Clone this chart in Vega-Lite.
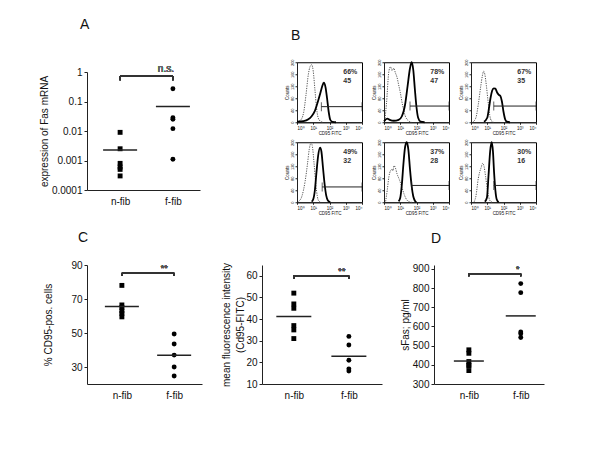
{
"$schema":"https://vega.github.io/schema/vega-lite/v6.json",
"background":"white",
"padding":{"left":39,"top":18,"right":5,"bottom":5},
"config":{"font":"Liberation Sans","view":{"stroke":null},
"axis":{"grid":false,"labelOverlap":false,"tickCount":20,"domainColor":"#222","tickColor":"#222","labelColor":"#111","titleColor":"#111","labelFontSize":10,"titleFontSize":10,"titleFontWeight":"normal","tickSize":3,"labelPadding":2,"titlePadding":2,"labelFont":"Liberation Sans","titleFont":"Liberation Sans"},
"title":{"fontSize":14,"fontWeight":"normal","anchor":"start","frame":"group","font":"Liberation Sans","color":"#111"}},
"datasets":{
"A":[{"group":"n-fib","value":0.009},{"group":"n-fib","value":0.0025},{"group":"n-fib","value":0.0008},{"group":"n-fib","value":0.0006},{"group":"n-fib","value":0.0005},{"group":"n-fib","value":0.0003},{"group":"f-fib","value":0.27},{"group":"f-fib","value":0.028},{"group":"f-fib","value":0.025},{"group":"f-fib","value":0.012},{"group":"f-fib","value":0.0011}],
"C1":[{"group":"n-fib","value":78},{"group":"n-fib","value":66.5},{"group":"n-fib","value":65},{"group":"n-fib","value":63},{"group":"n-fib","value":61.5},{"group":"n-fib","value":59.5},{"group":"f-fib","value":49.4},{"group":"f-fib","value":43.5},{"group":"f-fib","value":37},{"group":"f-fib","value":30},{"group":"f-fib","value":24.7}],
"C2":[{"group":"n-fib","value":52},{"group":"n-fib","value":47},{"group":"n-fib","value":45},{"group":"n-fib","value":37},{"group":"n-fib","value":35},{"group":"n-fib","value":31},{"group":"f-fib","value":32},{"group":"f-fib","value":28},{"group":"f-fib","value":21},{"group":"f-fib","value":17},{"group":"f-fib","value":16}],
"D":[{"group":"n-fib","value":478},{"group":"n-fib","value":460},{"group":"n-fib","value":417},{"group":"n-fib","value":398},{"group":"n-fib","value":395},{"group":"n-fib","value":370},{"group":"f-fib","value":823},{"group":"f-fib","value":776},{"group":"f-fib","value":571},{"group":"f-fib","value":562},{"group":"f-fib","value":542}],
"B":[
{"r":1,"c":1,"s":"c","fl":1,"n":2},{"r":1,"c":1,"s":"c","fl":1.58,"n":6},{"r":1,"c":1,"s":"c","fl":2.51,"n":30},{"r":1,"c":1,"s":"c","fl":3.55,"n":90},{"r":1,"c":1,"s":"c","fl":5.01,"n":160},{"r":1,"c":1,"s":"c","fl":6.31,"n":185},{"r":1,"c":1,"s":"c","fl":7.94,"n":192},{"r":1,"c":1,"s":"c","fl":10,"n":170},{"r":1,"c":1,"s":"c","fl":12.6,"n":110},{"r":1,"c":1,"s":"c","fl":15.8,"n":50},{"r":1,"c":1,"s":"c","fl":20,"n":15},{"r":1,"c":1,"s":"c","fl":28.2,"n":3},{"r":1,"c":1,"s":"c","fl":39.8,"n":0},
{"r":1,"c":1,"s":"f","fl":1,"n":2},{"r":1,"c":1,"s":"f","fl":2.51,"n":4},{"r":1,"c":1,"s":"f","fl":5.01,"n":10},{"r":1,"c":1,"s":"f","fl":7.94,"n":20},{"r":1,"c":1,"s":"f","fl":12.6,"n":38},{"r":1,"c":1,"s":"f","fl":20,"n":72},{"r":1,"c":1,"s":"f","fl":28.2,"n":100},{"r":1,"c":1,"s":"f","fl":35.5,"n":120},{"r":1,"c":1,"s":"f","fl":44.7,"n":132},{"r":1,"c":1,"s":"f","fl":56.2,"n":118},{"r":1,"c":1,"s":"f","fl":70.8,"n":80},{"r":1,"c":1,"s":"f","fl":89.1,"n":35},{"r":1,"c":1,"s":"f","fl":112,"n":8},{"r":1,"c":1,"s":"f","fl":158,"n":1},{"r":1,"c":1,"s":"f","fl":251,"n":0},
{"r":1,"c":2,"s":"c","fl":1.12,"n":5},{"r":1,"c":2,"s":"c","fl":1.41,"n":60},{"r":1,"c":2,"s":"c","fl":2,"n":170},{"r":1,"c":2,"s":"c","fl":2.51,"n":185},{"r":1,"c":2,"s":"c","fl":3.16,"n":172},{"r":1,"c":2,"s":"c","fl":3.98,"n":180},{"r":1,"c":2,"s":"c","fl":5.01,"n":165},{"r":1,"c":2,"s":"c","fl":6.31,"n":150},{"r":1,"c":2,"s":"c","fl":7.94,"n":125},{"r":1,"c":2,"s":"c","fl":10,"n":100},{"r":1,"c":2,"s":"c","fl":14.1,"n":55},{"r":1,"c":2,"s":"c","fl":20,"n":22},{"r":1,"c":2,"s":"c","fl":31.6,"n":5},{"r":1,"c":2,"s":"c","fl":50.1,"n":0},
{"r":1,"c":2,"s":"f","fl":1,"n":3},{"r":1,"c":2,"s":"f","fl":1.58,"n":12},{"r":1,"c":2,"s":"f","fl":2.24,"n":8},{"r":1,"c":2,"s":"f","fl":3.98,"n":5},{"r":1,"c":2,"s":"f","fl":7.94,"n":8},{"r":1,"c":2,"s":"f","fl":12.6,"n":20},{"r":1,"c":2,"s":"f","fl":20,"n":60},{"r":1,"c":2,"s":"f","fl":28.2,"n":120},{"r":1,"c":2,"s":"f","fl":39.8,"n":180},{"r":1,"c":2,"s":"f","fl":50.1,"n":200},{"r":1,"c":2,"s":"f","fl":63.1,"n":175},{"r":1,"c":2,"s":"f","fl":79.4,"n":110},{"r":1,"c":2,"s":"f","fl":100,"n":50},{"r":1,"c":2,"s":"f","fl":126,"n":15},{"r":1,"c":2,"s":"f","fl":178,"n":2},{"r":1,"c":2,"s":"f","fl":316,"n":0},
{"r":1,"c":3,"s":"c","fl":1.26,"n":0},{"r":1,"c":3,"s":"c","fl":2,"n":15},{"r":1,"c":3,"s":"c","fl":2.82,"n":60},{"r":1,"c":3,"s":"c","fl":3.98,"n":120},{"r":1,"c":3,"s":"c","fl":5.01,"n":155},{"r":1,"c":3,"s":"c","fl":6.03,"n":170},{"r":1,"c":3,"s":"c","fl":7.08,"n":160},{"r":1,"c":3,"s":"c","fl":8.91,"n":120},{"r":1,"c":3,"s":"c","fl":11.2,"n":70},{"r":1,"c":3,"s":"c","fl":14.1,"n":25},{"r":1,"c":3,"s":"c","fl":17.8,"n":5},{"r":1,"c":3,"s":"c","fl":25.1,"n":0},
{"r":1,"c":3,"s":"f","fl":6.31,"n":2},{"r":1,"c":3,"s":"f","fl":10,"n":15},{"r":1,"c":3,"s":"f","fl":12.6,"n":45},{"r":1,"c":3,"s":"f","fl":15.8,"n":80},{"r":1,"c":3,"s":"f","fl":20,"n":105},{"r":1,"c":3,"s":"f","fl":25.1,"n":113},{"r":1,"c":3,"s":"f","fl":31.6,"n":112},{"r":1,"c":3,"s":"f","fl":39.8,"n":100},{"r":1,"c":3,"s":"f","fl":50.1,"n":92},{"r":1,"c":3,"s":"f","fl":63.1,"n":88},{"r":1,"c":3,"s":"f","fl":79.4,"n":70},{"r":1,"c":3,"s":"f","fl":100,"n":35},{"r":1,"c":3,"s":"f","fl":126,"n":10},{"r":1,"c":3,"s":"f","fl":158,"n":2},{"r":1,"c":3,"s":"f","fl":251,"n":0},
{"r":2,"c":1,"s":"c","fl":1.26,"n":3},{"r":2,"c":1,"s":"c","fl":2,"n":20},{"r":2,"c":1,"s":"c","fl":3.16,"n":70},{"r":2,"c":1,"s":"c","fl":4.47,"n":130},{"r":2,"c":1,"s":"c","fl":5.62,"n":175},{"r":2,"c":1,"s":"c","fl":7.41,"n":198},{"r":2,"c":1,"s":"c","fl":8.91,"n":185},{"r":2,"c":1,"s":"c","fl":11.2,"n":130},{"r":2,"c":1,"s":"c","fl":14.1,"n":65},{"r":2,"c":1,"s":"c","fl":17.8,"n":20},{"r":2,"c":1,"s":"c","fl":23.4,"n":2},{"r":2,"c":1,"s":"c","fl":31.6,"n":0},
{"r":2,"c":1,"s":"f","fl":7.94,"n":2},{"r":2,"c":1,"s":"f","fl":10,"n":10},{"r":2,"c":1,"s":"f","fl":12.6,"n":40},{"r":2,"c":1,"s":"f","fl":15.8,"n":100},{"r":2,"c":1,"s":"f","fl":20,"n":155},{"r":2,"c":1,"s":"f","fl":26.3,"n":182},{"r":2,"c":1,"s":"f","fl":31.6,"n":170},{"r":2,"c":1,"s":"f","fl":39.8,"n":115},{"r":2,"c":1,"s":"f","fl":50.1,"n":60},{"r":2,"c":1,"s":"f","fl":63.1,"n":22},{"r":2,"c":1,"s":"f","fl":79.4,"n":6},{"r":2,"c":1,"s":"f","fl":112,"n":0},
{"r":2,"c":2,"s":"c","fl":1.26,"n":3},{"r":2,"c":2,"s":"c","fl":1.58,"n":40},{"r":2,"c":2,"s":"c","fl":2,"n":85},{"r":2,"c":2,"s":"c","fl":2.51,"n":105},{"r":2,"c":2,"s":"c","fl":3.16,"n":110},{"r":2,"c":2,"s":"c","fl":3.55,"n":105},{"r":2,"c":2,"s":"c","fl":4.17,"n":122},{"r":2,"c":2,"s":"c","fl":5.01,"n":115},{"r":2,"c":2,"s":"c","fl":6.31,"n":95},{"r":2,"c":2,"s":"c","fl":8.91,"n":75},{"r":2,"c":2,"s":"c","fl":12.6,"n":50},{"r":2,"c":2,"s":"c","fl":17.8,"n":25},{"r":2,"c":2,"s":"c","fl":25.1,"n":8},{"r":2,"c":2,"s":"c","fl":35.5,"n":2},{"r":2,"c":2,"s":"c","fl":50.1,"n":0},
{"r":2,"c":2,"s":"f","fl":7.94,"n":3},{"r":2,"c":2,"s":"f","fl":10,"n":15},{"r":2,"c":2,"s":"f","fl":12.6,"n":60},{"r":2,"c":2,"s":"f","fl":15.8,"n":130},{"r":2,"c":2,"s":"f","fl":20,"n":185},{"r":2,"c":2,"s":"f","fl":25.1,"n":200},{"r":2,"c":2,"s":"f","fl":31.6,"n":175},{"r":2,"c":2,"s":"f","fl":39.8,"n":110},{"r":2,"c":2,"s":"f","fl":50.1,"n":55},{"r":2,"c":2,"s":"f","fl":63.1,"n":20},{"r":2,"c":2,"s":"f","fl":79.4,"n":5},{"r":2,"c":2,"s":"f","fl":100,"n":0},
{"r":2,"c":3,"s":"c","fl":1.58,"n":2},{"r":2,"c":3,"s":"c","fl":2,"n":20},{"r":2,"c":3,"s":"c","fl":2.82,"n":80},{"r":2,"c":3,"s":"c","fl":3.39,"n":100},{"r":2,"c":3,"s":"c","fl":4.17,"n":115},{"r":2,"c":3,"s":"c","fl":5.25,"n":130},{"r":2,"c":3,"s":"c","fl":6.31,"n":120},{"r":2,"c":3,"s":"c","fl":7.94,"n":85},{"r":2,"c":3,"s":"c","fl":10,"n":45},{"r":2,"c":3,"s":"c","fl":12.6,"n":15},{"r":2,"c":3,"s":"c","fl":15.8,"n":3},{"r":2,"c":3,"s":"c","fl":20,"n":0},
{"r":2,"c":3,"s":"f","fl":7.08,"n":2},{"r":2,"c":3,"s":"f","fl":9.55,"n":15},{"r":2,"c":3,"s":"f","fl":12,"n":90},{"r":2,"c":3,"s":"f","fl":15.1,"n":170},{"r":2,"c":3,"s":"f","fl":18.6,"n":200},{"r":2,"c":3,"s":"f","fl":22.4,"n":170},{"r":2,"c":3,"s":"f","fl":26.3,"n":100},{"r":2,"c":3,"s":"f","fl":31.6,"n":40},{"r":2,"c":3,"s":"f","fl":38,"n":10},{"r":2,"c":3,"s":"f","fl":50.1,"n":0},
{"r":1,"c":1,"s":"g","fl":31.6,"n":52,"pct":"66%","num":"45"},
{"r":1,"c":2,"s":"g","fl":39.8,"n":54,"pct":"78%","num":"47"},
{"r":1,"c":3,"s":"g","fl":25.1,"n":54,"pct":"67%","num":"35"},
{"r":2,"c":1,"s":"g","fl":35.5,"n":51,"pct":"49%","num":"32"},
{"r":2,"c":2,"s":"g","fl":50.1,"n":56,"pct":"37%","num":"28"},
{"r":2,"c":3,"s":"g","fl":25.1,"n":56,"pct":"30%","num":"16"}
]},
"spacing":15,
"vconcat":[
{"spacing":83,"center":true,"hconcat":[
{"title":{"text":"A","dx":-7,"offset":32},
"width":113,"height":118,"data":{"name":"A"},
"encoding":{"x":{"field":"group","type":"nominal","sort":["n-fib","f-fib"],"scale":{"type":"point","padding":0.57,"align":0.55},"axis":{"title":null,"ticks":false,"labelAngle":0,"labelPadding":6}}},
"layer":[
{"mark":{"type":"point","filled":true,"color":"black","opacity":1,"size":24},"encoding":{"y":{"field":"value","type":"quantitative","scale":{"type":"log","domain":[0.0001,1]},"axis":{"values":[0.0001,0.001,0.01,0.1,1],"tickCount":20,"format":"~g","labelOverlap":false,"title":"expression of Fas mRNA"}},"shape":{"field":"group","type":"nominal","scale":{"domain":["n-fib","f-fib"],"range":["square","circle"]},"legend":null}}},
{"mark":{"type":"tick","color":"#222","size":34,"thickness":1.5},"encoding":{"y":{"aggregate":"mean","field":"value","type":"quantitative","title":"expression of Fas mRNA"}}},
{"mark":{"type":"rule","color":"#333","strokeWidth":1.2},"encoding":{"x":{"datum":"n-fib"},"x2":{"datum":"f-fib"},"y":{"datum":0.73}}},
{"mark":{"type":"rule","color":"#333","strokeWidth":1.2},"encoding":{"x":{"datum":"n-fib"},"y":{"datum":0.73},"y2":{"datum":0.53}}},
{"mark":{"type":"rule","color":"#333","strokeWidth":1.2},"encoding":{"x":{"datum":"f-fib"},"y":{"datum":0.73},"y2":{"datum":0.53}}},
{"mark":{"type":"text","text":"n.s.","fontSize":10,"dx":-7,"dy":-2,"baseline":"bottom","color":"#666"},"encoding":{"x":{"datum":"f-fib"},"y":{"datum":0.73}}}
]},
{"title":{"text":"B","dx":-6,"offset":15},
"data":{"name":"B"},
"facet":{"row":{"field":"r","type":"ordinal","header":{"labels":false,"title":null}},"column":{"field":"c","type":"ordinal","header":{"labels":false,"title":null}}},
"bounds":"flush","spacing":{"row":20,"column":22},
"resolve":{"axis":{"x":"independent","y":"independent"}},
"spec":{"width":65,"height":60,"view":{"stroke":"black","strokeWidth":1},
"encoding":{
"x":{"field":"fl","type":"quantitative","scale":{"type":"log","domain":[1,10000]},"axis":{"values":[1,10,100,1000,10000],"tickCount":20,"labelExpr":"datum.value == 1 ? '10⁰' : datum.value == 10 ? '10¹' : datum.value == 100 ? '10²' : datum.value == 1000 ? '10³' : '10⁴'","labelFontSize":4.5,"tickSize":2,"labelPadding":1,"title":"CD95 FITC","titleFontSize":4.5,"titlePadding":1}},
"y":{"field":"n","type":"quantitative","scale":{"domain":[0,200]},"axis":{"values":[0,40,80,120,160,200],"tickCount":20,"labelAngle":270,"labelAlign":"center","labelBaseline":"bottom","labelFontSize":4,"tickSize":2,"labelPadding":1,"title":"Counts","titleFontSize":4.5,"titlePadding":1}}},
"layer":[
{"transform":[{"filter":"datum.s == 'c'"}],"mark":{"type":"line","interpolate":"monotone","color":"#555","strokeWidth":1,"strokeDash":[1.2,1.2]}},
{"transform":[{"filter":"datum.s == 'f'"}],"mark":{"type":"line","interpolate":"monotone","color":"black","strokeWidth":1.8}},
{"transform":[{"filter":"datum.s == 'g'"}],"mark":{"type":"rule","color":"#222","strokeWidth":1},"encoding":{"x2":{"datum":10000}}},
{"transform":[{"filter":"datum.s == 'g'"}],"mark":{"type":"tick","orient":"vertical","size":9,"thickness":1,"color":"#222"}},
{"transform":[{"filter":"datum.s == 'g'"}],"mark":{"type":"tick","orient":"vertical","size":9,"thickness":1,"color":"#222"},"encoding":{"x":{"datum":10000}}},
{"transform":[{"filter":"datum.s == 'g'"}],"mark":{"type":"text","align":"left","fontSize":7,"fontWeight":"bold","color":"#333"},"encoding":{"x":{"datum":700},"y":{"datum":166},"text":{"field":"pct"}}},
{"transform":[{"filter":"datum.s == 'g'"}],"mark":{"type":"text","align":"left","fontSize":7,"fontWeight":"bold","color":"#333"},"encoding":{"x":{"datum":700},"y":{"datum":136},"text":{"field":"num"}}}
]}}
]},
{"spacing":18,"hconcat":[
{"title":{"text":"C","dx":-9,"offset":15},"spacing":60,"bounds":"flush","hconcat":[
{"width":115,"height":119,"data":{"name":"C1"},
"encoding":{"x":{"field":"group","type":"nominal","sort":["n-fib","f-fib"],"scale":{"type":"point","padding":0.6,"align":0.556},"axis":{"title":null,"ticks":false,"labelAngle":0,"labelPadding":6}}},
"layer":[
{"mark":{"type":"point","filled":true,"color":"black","opacity":1,"size":24},"encoding":{"y":{"field":"value","type":"quantitative","scale":{"domain":[20,90],"nice":false,"zero":false},"axis":{"values":[30,50,70,90],"tickCount":20,"labelOverlap":false,"title":"% CD95-pos. cells","titlePadding":17}},"shape":{"field":"group","type":"nominal","scale":{"domain":["n-fib","f-fib"],"range":["square","circle"]},"legend":null}}},
{"mark":{"type":"tick","color":"#222","size":34,"thickness":1.5},"encoding":{"y":{"aggregate":"mean","field":"value","type":"quantitative","title":"% CD95-pos. cells"}}},
{"mark":{"type":"rule","color":"#333","strokeWidth":1.2},"encoding":{"x":{"datum":"n-fib"},"x2":{"datum":"f-fib"},"y":{"datum":85.3}}},
{"mark":{"type":"rule","color":"#333","strokeWidth":1.2},"encoding":{"x":{"datum":"n-fib"},"y":{"datum":85.3},"y2":{"datum":83.5}}},
{"mark":{"type":"rule","color":"#333","strokeWidth":1.2},"encoding":{"x":{"datum":"f-fib"},"y":{"datum":85.3},"y2":{"datum":83.5}}},
{"mark":{"type":"text","text":"**","fontSize":9,"dx":-10,"dy":0,"baseline":"bottom","color":"#555"},"encoding":{"x":{"datum":"f-fib"},"y":{"datum":85.3}}}
]},
{"width":120,"height":119,"data":{"name":"C2"},
"encoding":{"x":{"field":"group","type":"nominal","sort":["n-fib","f-fib"],"scale":{"type":"point","padding":0.59,"align":0.49},"axis":{"title":null,"ticks":false,"labelAngle":0,"labelPadding":6}}},
"layer":[
{"mark":{"type":"point","filled":true,"color":"black","opacity":1,"size":24},"encoding":{"y":{"field":"value","type":"quantitative","scale":{"domain":[10,65],"nice":false,"zero":false},"axis":{"values":[10,20,30,40,50,60],"tickCount":20,"labelOverlap":false,"title":["mean fluorescence intensity","(Cd95-FITC)"],"titleLineHeight":14,"titlePadding":0}},"shape":{"field":"group","type":"nominal","scale":{"domain":["n-fib","f-fib"],"range":["square","circle"]},"legend":null}}},
{"mark":{"type":"tick","color":"#222","size":35,"thickness":1.5},"encoding":{"y":{"aggregate":"mean","field":"value","type":"quantitative","title":["mean fluorescence intensity","(Cd95-FITC)"]}}},
{"mark":{"type":"rule","color":"#333","strokeWidth":1.2},"encoding":{"x":{"datum":"n-fib"},"x2":{"datum":"f-fib"},"y":{"datum":60}}},
{"mark":{"type":"rule","color":"#333","strokeWidth":1.2},"encoding":{"x":{"datum":"n-fib"},"y":{"datum":60},"y2":{"datum":58.6}}},
{"mark":{"type":"rule","color":"#333","strokeWidth":1.2},"encoding":{"x":{"datum":"f-fib"},"y":{"datum":60},"y2":{"datum":58.6}}},
{"mark":{"type":"text","text":"**","fontSize":9,"dx":-7,"dy":0,"baseline":"bottom","color":"#555"},"encoding":{"x":{"datum":"f-fib"},"y":{"datum":60}}}
]}
]},
{"title":{"text":"D","dx":-3,"offset":18},
"width":110,"height":119,"data":{"name":"D"},
"encoding":{"x":{"field":"group","type":"nominal","sort":["n-fib","f-fib"],"scale":{"type":"point","padding":0.56,"align":0.6},"axis":{"title":null,"ticks":false,"labelAngle":0,"labelPadding":6}}},
"layer":[
{"mark":{"type":"point","filled":true,"color":"black","opacity":1,"size":24},"encoding":{"y":{"field":"value","type":"quantitative","scale":{"domain":[300,920],"nice":false,"zero":false},"axis":{"values":[300,400,500,600,700,800,900],"tickCount":20,"labelOverlap":false,"title":"sFas; pg/ml"}},"shape":{"field":"group","type":"nominal","scale":{"domain":["n-fib","f-fib"],"range":["square","circle"]},"legend":null}}},
{"mark":{"type":"tick","color":"#222","size":30,"thickness":1.5},"encoding":{"y":{"aggregate":"mean","field":"value","type":"quantitative","title":"sFas; pg/ml"}}},
{"mark":{"type":"rule","color":"#333","strokeWidth":1.2},"encoding":{"x":{"datum":"n-fib"},"x2":{"datum":"f-fib"},"y":{"datum":875}}},
{"mark":{"type":"rule","color":"#333","strokeWidth":1.2},"encoding":{"x":{"datum":"n-fib"},"y":{"datum":875},"y2":{"datum":862}}},
{"mark":{"type":"rule","color":"#333","strokeWidth":1.2},"encoding":{"x":{"datum":"f-fib"},"y":{"datum":875},"y2":{"datum":862}}},
{"mark":{"type":"text","text":"*","fontSize":9,"dx":-3,"dy":0,"baseline":"bottom","color":"#555"},"encoding":{"x":{"datum":"f-fib"},"y":{"datum":875}}}
]}
]}
]
}
